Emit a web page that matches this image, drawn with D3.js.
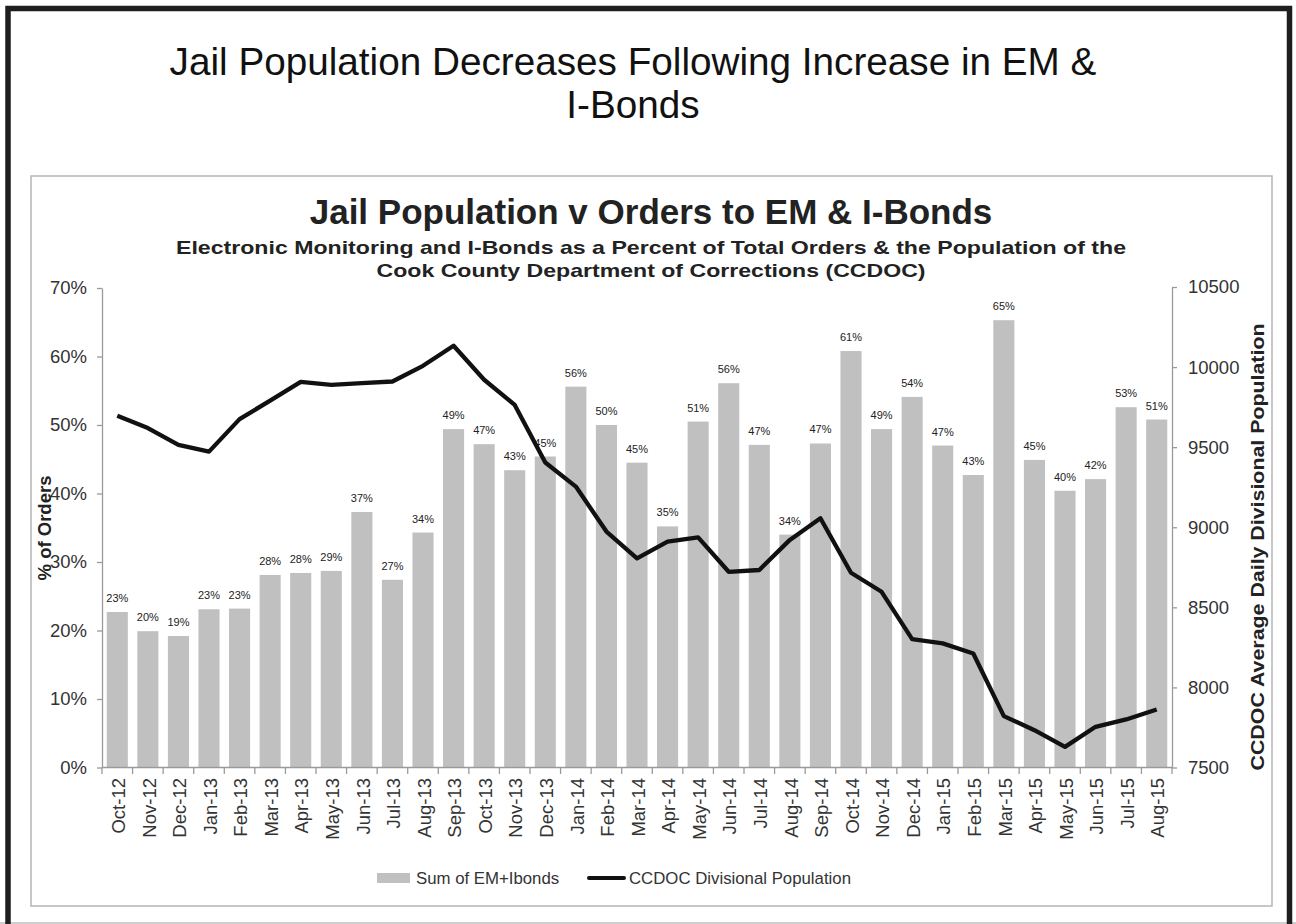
<!DOCTYPE html>
<meta charset="utf-8">
<style>
body { margin: 0; background: #fff; }
svg text { font-family: "Liberation Sans", Arial, sans-serif; }
.axis path, .axis line { stroke: #9a9a9a; stroke-width: 1.3px; }
.axis text { fill: #333; font-size: 18.5px; }
.barlabel { font-size: 11px; fill: #222; text-anchor: middle; }
.legend text { font-size: 16.8px; fill: #333; }
</style>
<body>
<script src="https://cdn.jsdelivr.net/npm/d3@7/dist/d3.min.js"></script>
<script>

// months on the x axis
var months = ["Oct-12","Nov-12","Dec-12","Jan-13","Feb-13","Mar-13","Apr-13","May-13","Jun-13","Jul-13",
  "Aug-13","Sep-13","Oct-13","Nov-13","Dec-13","Jan-14","Feb-14","Mar-14","Apr-14","May-14",
  "Jun-14","Jul-14","Aug-14","Sep-14","Oct-14","Nov-14","Dec-14","Jan-15","Feb-15","Mar-15",
  "Apr-15","May-15","Jun-15","Jul-15","Aug-15"];

// EM + I-Bonds as share of total orders
var emPct = [0.227,0.199,0.192,0.231,0.232,0.281,0.284,0.287,0.373,0.274,
  0.343,0.494,0.472,0.434,0.454,0.556,0.500,0.445,0.352,0.505,
  0.561,0.471,0.340,0.473,0.608,0.494,0.541,0.470,0.427,0.653,
  0.449,0.404,0.421,0.526,0.508];

// CCDOC average daily divisional population
var population = [9696,9619,9514,9472,9675,9791,9908,9889,9900,9910,
  10008,10133,9921,9764,9404,9254,8973,8806,8910,8937,
  8722,8733,8921,9056,8716,8597,8302,8275,8212,7821,
  7733,7629,7754,7800,7862];

var pctTicks = [0,0.1,0.2,0.3,0.4,0.5,0.6,0.7];
var popTicks = [7500,8000,8500,9000,9500,10000,10500];

var W = 1296, H = 924;

var svg = d3.select("body").append("svg")
    .attr("width", W)
    .attr("height", H);

// outer frame
svg.append("line")
    .attr("x1", 0).attr("x2", W).attr("y1", 923).attr("y2", 923)
    .attr("stroke", "#cfcfcf").attr("stroke-width", 2);
svg.append("rect")
    .attr("x", 8).attr("y", 8.5).attr("width", 1281.5).attr("height", 1000)
    .attr("fill", "none").attr("stroke", "#1e1e1e").attr("stroke-width", 5.5);

// page title
svg.append("text").attr("x", 633).attr("y", 75).attr("text-anchor", "middle")
    .style("font-size", "38.7px").attr("fill", "#111")
    .text("Jail Population Decreases Following Increase in EM &");
svg.append("text").attr("x", 633).attr("y", 118).attr("text-anchor", "middle")
    .style("font-size", "38.7px").attr("fill", "#111")
    .text("I-Bonds");

// chart box
svg.append("rect")
    .attr("x", 31).attr("y", 176).attr("width", 1241).attr("height", 730)
    .attr("fill", "none").attr("stroke", "#b5b5b5").attr("stroke-width", 1.5);

// chart titles
svg.append("text").attr("x", 651).attr("y", 224).attr("text-anchor", "middle")
    .style("font-size", "35px").style("font-weight", "bold").attr("fill", "#222")
    .text("Jail Population v Orders to EM & I-Bonds");
svg.append("text").attr("x", 651).attr("y", 254).attr("text-anchor", "middle")
    .attr("textLength", 950).attr("lengthAdjust", "spacingAndGlyphs")
    .style("font-size", "19px").style("font-weight", "bold").attr("fill", "#222")
    .text("Electronic Monitoring and I-Bonds as a Percent of Total Orders & the Population of the");
svg.append("text").attr("x", 651).attr("y", 277).attr("text-anchor", "middle")
    .attr("textLength", 549).attr("lengthAdjust", "spacingAndGlyphs")
    .style("font-size", "19px").style("font-weight", "bold").attr("fill", "#222")
    .text("Cook County Department of Corrections (CCDOC)");

// scales
var x = d3.scaleBand()
    .domain(months)
    .range([102, 1172])
    .paddingInner(0.31)
    .paddingOuter(0.155);

var yL = d3.scaleLinear().domain([0, 0.7]).range([767.5, 288]);
var yR = d3.scaleLinear().domain([7500, 10500]).range([767.5, 287]);

// bars
svg.append("g").selectAll("rect")
    .data(emPct)
  .enter().append("rect")
    .attr("x", function(d, i) { return x(months[i]); })
    .attr("width", x.bandwidth())
    .attr("y", function(d) { return yL(d); })
    .attr("height", function(d) { return yL(0) - yL(d); })
    .attr("fill", "#c0c0c0");

// bar labels
svg.append("g").selectAll("text")
    .data(emPct)
  .enter().append("text")
    .attr("class", "barlabel")
    .attr("x", function(d, i) { return x(months[i]) + x.bandwidth() / 2; })
    .attr("y", function(d) { return yL(d) - 10; })
    .text(d3.format(".0%"));

// axes
svg.append("g").attr("class", "axis")
    .attr("transform", "translate(102,0)")
    .call(d3.axisLeft(yL).tickValues(pctTicks).tickFormat(d3.format(".0%"))
        .tickSize(5).tickSizeOuter(0).tickPadding(10));

svg.append("g").attr("class", "axis")
    .attr("transform", "translate(1172,0)")
    .call(d3.axisRight(yR).tickValues(popTicks).tickFormat(d3.format("d"))
        .tickSize(5).tickSizeOuter(0).tickPadding(11));

// x axis: ticks sit between the bars
var bottom = svg.append("g").attr("class", "axis");
bottom.append("line")
    .attr("x1", 102).attr("x2", 1172).attr("y1", 767.5).attr("y2", 767.5);
bottom.selectAll(".tk")
    .data(months.concat(["end"]))
  .enter().append("line")
    .attr("class", "tk")
    .attr("x1", function(d, i) { return 102 + i * x.step(); })
    .attr("x2", function(d, i) { return 102 + i * x.step(); })
    .attr("y1", 767.5).attr("y2", 774);
bottom.selectAll(".lbl")
    .data(months)
  .enter().append("text")
    .attr("class", "lbl")
    .attr("transform", function(d) {
        return "translate(" + (x(d) + x.bandwidth() / 2) + ",778) rotate(-90)";
    })
    .attr("dy", "0.42em")
    .attr("text-anchor", "end")
    .text(function(d) { return d; });

// axis titles
svg.append("text")
    .attr("transform", "translate(45,528) rotate(-90)")
    .attr("dy", "0.35em")
    .attr("text-anchor", "middle")
    .style("font-size", "18.5px").style("font-weight", "bold").attr("fill", "#222")
    .text("% of Orders");
svg.append("text")
    .attr("transform", "translate(1258,547) rotate(-90)")
    .attr("dy", "0.35em")
    .attr("text-anchor", "middle")
    .attr("textLength", 447).attr("lengthAdjust", "spacingAndGlyphs")
    .style("font-size", "18px").style("font-weight", "bold").attr("fill", "#222")
    .text("CCDOC Average Daily Divisional Population");

// population line
var line = d3.line()
    .x(function(d, i) { return x(months[i]) + x.bandwidth() / 2; })
    .y(function(d) { return yR(d); });

svg.append("path")
    .datum(population)
    .attr("d", line)
    .attr("fill", "none")
    .attr("stroke", "#111")
    .attr("stroke-width", 4.3)
    .attr("stroke-linejoin", "round");

// legend
var legend = svg.append("g").attr("class", "legend");
legend.append("rect")
    .attr("x", 377).attr("y", 873).attr("width", 33).attr("height", 10)
    .attr("fill", "#c0c0c0");
legend.append("text").attr("x", 416).attr("y", 884).text("Sum of EM+Ibonds");
legend.append("line")
    .attr("x1", 589).attr("x2", 624).attr("y1", 878).attr("y2", 878)
    .attr("stroke", "#111").attr("stroke-width", 4).attr("stroke-linecap", "round");
legend.append("text").attr("x", 629).attr("y", 884).text("CCDOC Divisional Population");

</script>
</body>
